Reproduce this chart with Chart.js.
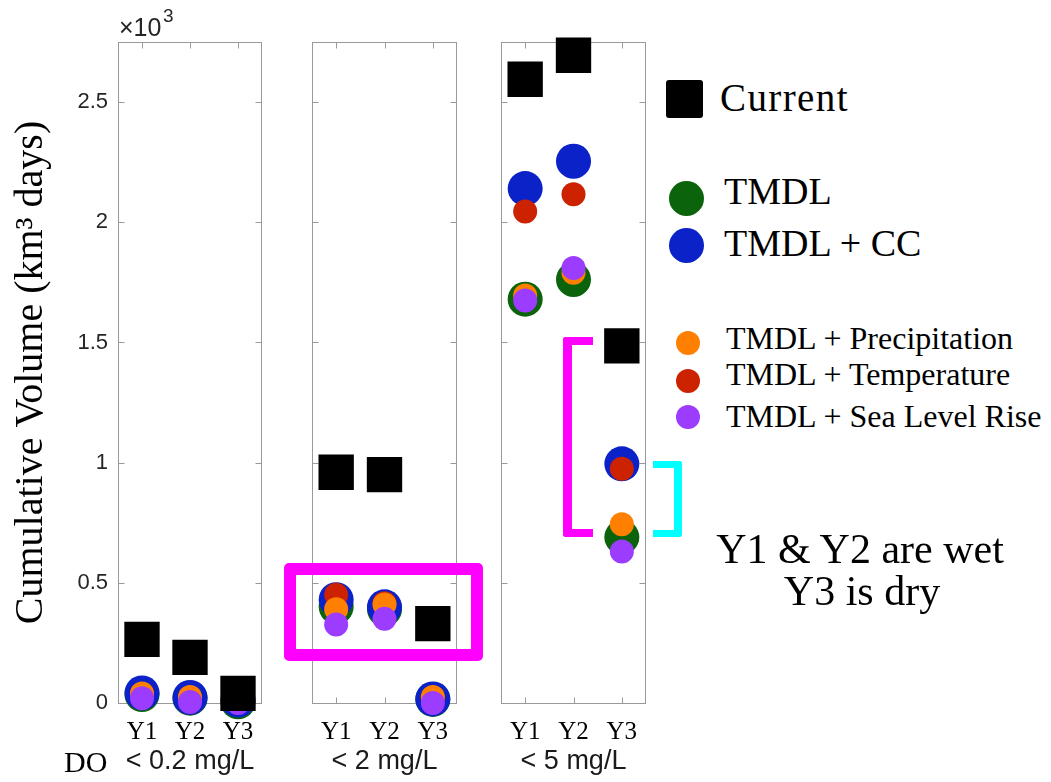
<!DOCTYPE html>
<html>
<head>
<meta charset="utf-8">
<script src="https://cdn.jsdelivr.net/npm/chart.js@4.4.1/dist/chart.umd.min.js"></script>
<style>
    body { margin: 0; background: #fff; width: 1051px; height: 782px; position: relative; overflow: hidden; }
    canvas.panel { position: absolute; top: 0; }
    .txt { position: absolute; white-space: nowrap; line-height: 1; color: #000; }
    .serif { font-family: 'Liberation Serif', serif; }
    .sans { font-family: 'Liberation Sans', sans-serif; }
    .mk { position: absolute; border-radius: 50%; }
    .box { position: absolute; box-sizing: border-box; }
</style>
</head>
<body>
<canvas id="p1" class="panel" width="270" height="782" style="left:0px"></canvas>
<canvas id="p2" class="panel" width="170" height="782" style="left:300px"></canvas>
<canvas id="p3" class="panel" width="170" height="782" style="left:489px"></canvas>

<!-- axis extras -->
<div class="txt sans" style="left:119px; top:15px; font-size:25px; color:#262626;">×10</div>
<div class="txt sans" style="left:163px; top:6px; font-size:19px; color:#262626;">3</div>
<div class="txt serif" style="left:64px; top:747px; font-size:30px;">DO</div>

<!-- legend -->
<div class="box" style="left:666px; top:80px; width:37px; height:38px; background:#000; border-radius:3px;"></div>
<div class="txt serif" style="left:720px; top:78px; font-size:39px; letter-spacing:1.4px;">Current</div>
<div class="mk" style="left:669px; top:181px; width:35px; height:35px; background:#0b640b;"></div>
<div class="txt serif" style="left:724px; top:172px; font-size:38px;">TMDL</div>
<div class="mk" style="left:669px; top:228px; width:35px; height:35px; background:#0a22c8;"></div>
<div class="txt serif" style="left:724px; top:224px; font-size:38px;">TMDL + CC</div>
<div class="mk" style="left:676px; top:331px; width:24px; height:24px; background:#ff8000;"></div>
<div class="txt serif" style="left:726px; top:322px; font-size:32px;">TMDL + Precipitation</div>
<div class="mk" style="left:676px; top:369px; width:24px; height:24px; background:#cc2200;"></div>
<div class="txt serif" style="left:726px; top:358px; font-size:32px;">TMDL + Temperature</div>
<div class="mk" style="left:676px; top:405px; width:24px; height:24px; background:#9b3cff;"></div>
<div class="txt serif" style="left:726px; top:400px; font-size:32px;">TMDL + Sea Level Rise</div>

<!-- annotations -->
<div class="box" style="left:284px; top:563px; width:199px; height:98px; border:12px solid #ff00ff; border-radius:5px;"></div>
<div class="box" style="left:563px; top:337px; width:30px; height:200px; border:8px solid #ff00ff; border-left-width:9px; border-right:none; border-radius:3px 0 0 3px;"></div>
<div class="box" style="left:653px; top:461px; width:29px; height:76px; border:7px solid #00ffff; border-right-width:8px; border-left:none; border-radius:0 3px 3px 0;"></div>
<div class="txt serif" style="left:660px; width:400px; text-align:center; top:528px; font-size:42px;">Y1 &amp; Y2 are wet</div>
<div class="txt serif" style="left:662px; width:400px; text-align:center; top:570px; font-size:42px;">Y3 is dry</div>

<script>
// Categories and tick labels
const categories = ['Y1', 'Y2', 'Y3'];
const panelTitles = ['< 0.2 mg/L', '< 2 mg/L', '< 5 mg/L'];
const yTicks = [0, 0.5, 1, 1.5, 2, 2.5];

// Cumulative volume (x10^3 km3 days), DO < 0.2 mg/L
const current_02 = [0.265, 0.19, 0.04];
const tmdl_02 = [0.035, 0.02, 0.005];
const tmdlCC_02 = [0.042, 0.023, 0.012];
const precip_02 = [0.04, 0.025, 0.008];
const temp_02 = [0.035, 0.02, 0.006];
const slr_02 = [0.02, 0.004, 0.0];

// DO < 2 mg/L
const current_2 = [0.96, 0.95, 0.33];
const tmdl_2 = [0.40, 0.39, 0.015];
const tmdlCC_2 = [0.43, 0.40, 0.017];
const precip_2 = [0.39, 0.41, 0.025];
const temp_2 = [0.45, 0.415, 0.02];
const slr_2 = [0.327, 0.35, 0.0];

// DO < 5 mg/L
const current_5 = [2.595, 2.695, 1.486];
const tmdl_5 = [1.68, 1.762, 0.69];
const tmdlCC_5 = [2.14, 2.254, 0.995];
const precip_5 = [1.695, 1.79, 0.744];
const temp_5 = [2.045, 2.117, 0.975];
const slr_5 = [1.675, 1.81, 0.63];

// Marker look per scenario (order: lower number is drawn on top)
const scenarioStyles = [
    { label: 'Current', color: '#000000', style: 'rect', radius: 25, order: 0 },
    { label: 'TMDL', color: '#0b640b', style: 'circle', radius: 17.5, order: 5 },
    { label: 'TMDL + CC', color: '#0a22c8', style: 'circle', radius: 17.5, order: 4 },
    { label: 'TMDL + Precipitation', color: '#ff8000', style: 'circle', radius: 12, order: 2 },
    { label: 'TMDL + Temperature', color: '#cc2200', style: 'circle', radius: 12, order: 3 },
    { label: 'TMDL + Sea Level Rise', color: '#9b3cff', style: 'circle', radius: 12, order: 1 }
];

// Box with inward ticks, MATLAB style
const framePlugin = {
    id: 'frame',
    beforeDatasetsDraw(chart) {
        const { ctx, chartArea: a } = chart;
        const x = chart.scales.x, y = chart.scales.y;
        const l = Math.round(a.left) + 0.5, r = Math.round(a.right) - 0.5;
        const t = Math.round(a.top) + 0.5, b = Math.round(a.bottom) + 0.5;
        ctx.save();
        ctx.strokeStyle = '#9a9a9a';
        ctx.lineWidth = 1;
        ctx.strokeRect(l, t, r - l, b - t);
        ctx.beginPath();
        yTicks.forEach(v => {
            const py = Math.round(y.getPixelForValue(v)) + 0.5;
            ctx.moveTo(l, py); ctx.lineTo(l + 6, py);
            ctx.moveTo(r, py); ctx.lineTo(r - 6, py);
        });
        categories.forEach((c, i) => {
            const px = Math.round(x.getPixelForValue(i)) + 0.5;
            ctx.moveTo(px, t); ctx.lineTo(px, t + 6);
            ctx.moveTo(px, b); ctx.lineTo(px, b - 6);
        });
        ctx.stroke();
        ctx.restore();
    }
};

function makePanel(id, title, seriesList, showY, padLeft, padRight) {
    const datasets = seriesList.map((values, i) => {
        const s = scenarioStyles[i];
        return {
            label: s.label,
            data: values,
            showLine: false,
            pointStyle: s.style,
            pointRadius: s.radius,
            pointBackgroundColor: s.color,
            pointBorderColor: s.color,
            pointBorderWidth: 0,
            order: s.order,
            clip: false
        };
    });

    return new Chart(document.getElementById(id), {
        type: 'line',
        data: { labels: categories, datasets: datasets },
        options: {
            responsive: false,
            animation: false,
            events: [],
            layout: {
                autoPadding: false,
                padding: { top: 42, bottom: 0, left: padLeft, right: padRight }
            },
            plugins: { legend: { display: false }, tooltip: { enabled: false } },
            scales: {
                x: {
                    type: 'category',
                    offset: true,
                    grid: { display: false, drawTicks: false },
                    border: { display: false },
                    ticks: {
                        font: { family: 'Liberation Serif', size: 25 },
                        color: '#000',
                        padding: 14,
                        maxRotation: 0,
                        autoSkip: false
                    },
                    title: {
                        display: true,
                        text: title,
                        font: { family: 'Liberation Sans', size: 27 },
                        color: '#1a1a1a',
                        padding: { top: 0, bottom: 4 }
                    },
                    afterFit: s => {
                        s.height = 79;
                        s.paddingLeft = 0;
                        s.paddingRight = 0;
                    }
                },
                y: {
                    display: showY,
                    min: 0,
                    max: 2.75,
                    afterBuildTicks: s => { s.ticks = yTicks.map(v => ({ value: v })); },
                    grid: { display: false, drawTicks: false },
                    border: { display: false },
                    ticks: {
                        font: { family: 'Liberation Sans', size: 22 },
                        color: '#262626',
                        padding: 10,
                        callback: v => String(v)
                    },
                    title: {
                        display: showY,
                        text: 'Cumulative Volume (km³ days)',
                        font: { family: 'Liberation Serif', size: 40 },
                        color: '#000',
                        padding: { top: 7, bottom: 0 }
                    },
                    afterFit: s => {
                        s.width = showY ? 118 : 0;
                        s.paddingTop = 0;
                        s.paddingBottom = 0;
                    }
                }
            }
        },
        plugins: [framePlugin]
    });
}

makePanel('p1', panelTitles[0], [current_02, tmdl_02, tmdlCC_02, precip_02, temp_02, slr_02], true, 0, 8);
makePanel('p2', panelTitles[1], [current_2, tmdl_2, tmdlCC_2, precip_2, temp_2, slr_2], false, 12, 13);
makePanel('p3', panelTitles[2], [current_5, tmdl_5, tmdlCC_5, precip_5, temp_5, slr_5], false, 12, 13);
</script>
</body>
</html>
